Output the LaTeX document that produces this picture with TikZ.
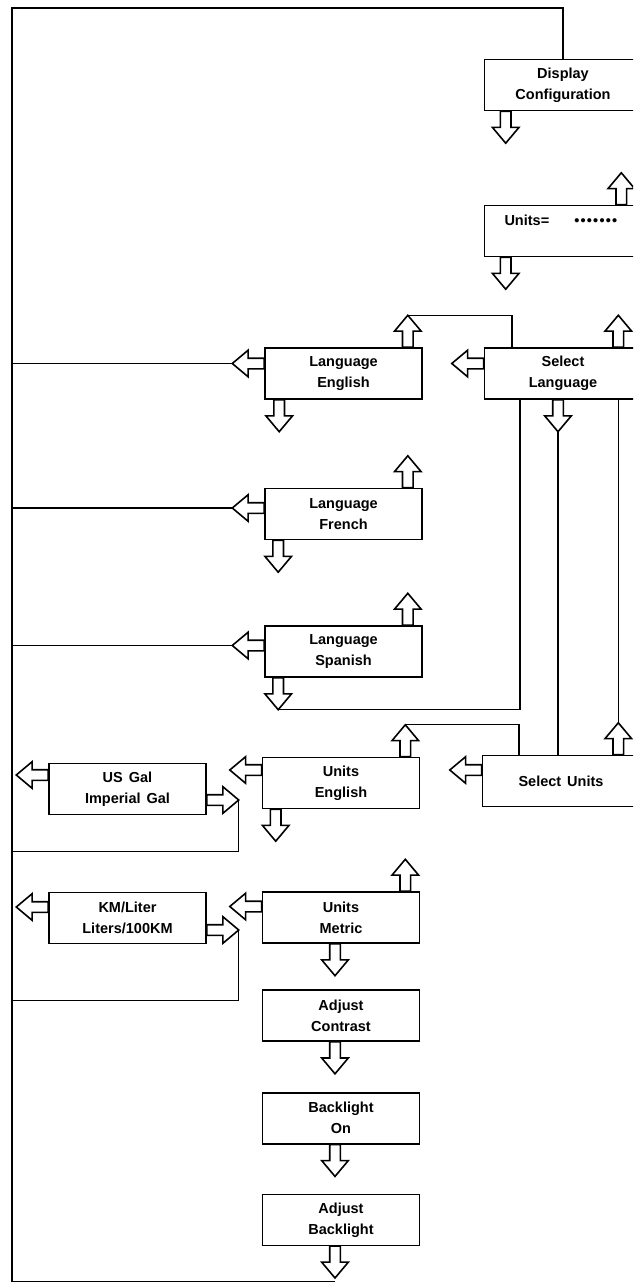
\documentclass[tikz,border=0pt]{standalone}
\usepackage{fontspec}
\setmainfont{Liberation Sans}
\usetikzlibrary{shapes.arrows,positioning}
\tikzset{
  menubox/.style={
    draw, line width=1.6pt, minimum width=157pt, minimum height=51pt,
    inner sep=2pt, align=center, font=\bfseries\fontsize{14.5}{21}\selectfont
  },
  barrow/.style={
    single arrow, draw, line width=1.6pt, fill=white,
    inner xsep=12pt, inner ysep=4.5pt,
    single arrow head extend=8pt, single arrow tip angle=80,
    minimum width=0pt, minimum height=0pt, outer sep=0pt, anchor=tail
  },
  darr/.style={barrow, rotate=-90},
  uarr/.style={barrow, rotate=90},
  larr/.style={barrow, rotate=180},
  rarr/.style={barrow},
  wire/.style={line width=1.3pt}
}
\newcommand{\blank}{\hspace{1.2pt}•}

\begin{document}
\begin{tikzpicture}[x=1pt, y=-1pt, node distance=50pt]
  \useasboundingbox (0,0) rectangle (633,1284);
  \clip (0,0) rectangle (633,1284);
  \coordinate (fTL) at (12,8);
  \coordinate (fBL) at (12,1281.5);

  % right column
  \node[menubox] (disp)   at (563,85)    {Display\\Configuration};
  \node[menubox, text width=141pt, inner xsep=8pt, align=left] (unitsD) at (563,231)
    {\hspace*{12pt}Units=\hspace{24pt}\blank\blank\blank\blank\blank\blank\blank\\\mbox{}};
  \node[menubox] (selL)   at (563,373.5) {Select\\Language};
  \node[menubox] (selU)   at (561,781)   {Select\hspace{6pt}Units};

  % language column
  \node[menubox] (engL)   at (343.5,373.5) {Language\\English};
  \node[menubox] (frL)    at (343.5,514)   {Language\\French};
  \node[menubox] (spL)    at (343.5,651.5) {Language\\Spanish};

  % units column
  \node[menubox] (uEng)   at (341,783)     {Units\\English};
  \node[menubox] (uMet)   at (341,917.5)   {Units\\Metric};
  \node[menubox] (usGal)  at (127.5,789)   {US\hspace{6pt}Gal\\Imperial\hspace{6pt}Gal};
  \node[menubox] (kmL)    at (127.5,918)   {KM/Liter\\Liters/100KM};
  \node[menubox, below=45.5pt of uMet] (contrast) {Adjust\\Contrast};
  \node[menubox, below=50pt of contrast] (blOn) {Backlight\\On};
  \node[menubox, below=49pt of blOn] (adjBl) {Adjust\\Backlight};

  % block arrows
  \node[darr] (dispD)   at ([xshift=22pt]disp.south west) {};
  \node[uarr] (unitsU)  at ([xshift=-21pt]unitsD.north east) {};
  \node[darr] (unitsDn) at ([xshift=22pt]unitsD.south west) {};
  \node[uarr] (selLU)   at ([xshift=-24pt]selL.north east) {};
  \node[larr] (selLL)   at ([yshift=10pt]selL.west) {};
  \node[darr] (selLD)   at ([xshift=-5pt]selL.south) {};
  \node[uarr] (engLU)   at ([xshift=-15pt]engL.north east) {};
  \node[larr] (engLL)   at ([yshift=10pt]engL.west) {};
  \node[darr] (engLD)   at ([xshift=15pt]engL.south west) {};
  \node[uarr] (frLU)    at ([xshift=-15pt]frL.north east) {};
  \node[larr] (frLL)    at ([yshift=6pt]frL.west) {};
  \node[darr] (frLD)    at ([xshift=14pt]frL.south west) {};
  \node[uarr] (spLU)    at ([xshift=-15pt]spL.north east) {};
  \node[larr] (spLL)    at ([yshift=6pt]spL.west) {};
  \node[darr] (spLD)    at ([xshift=14pt]spL.south west) {};
  \node[uarr] (selUU)   at ([xshift=-22pt]selU.north east) {};
  \node[larr] (selUL)   at ([yshift=11pt]selU.west) {};
  \node[uarr] (uEngU)   at ([xshift=-15pt]uEng.north east) {};
  \node[larr] (uEngL)   at ([yshift=13pt]uEng.west) {};
  \node[darr] (uEngD)   at ([xshift=14pt]uEng.south west) {};
  \node[larr] (usGalL)  at ([yshift=14pt]usGal.west) {};
  \node[rarr] (usGalR)  at ([yshift=-11pt]usGal.east) {};
  \node[uarr] (uMetU)   at ([xshift=-15pt]uMet.north east) {};
  \node[larr] (uMetL)   at ([yshift=11pt]uMet.west) {};
  \node[darr] (uMetD)   at ([xshift=-6pt]uMet.south) {};
  \node[larr] (kmLL)    at ([yshift=11pt]kmL.west) {};
  \node[rarr] (kmLR)    at ([yshift=-12pt]kmL.east) {};
  \node[darr] (contrastD) at ([xshift=-6pt]contrast.south) {};
  \node[darr] (blOnD)   at ([xshift=-6pt]blOn.south) {};
  \node[darr] (adjBlD)  at ([xshift=-6pt]adjBl.south) {};

  % return paths
  \coordinate (usGalRet) at ([yshift=-36pt]usGal.south);
  \coordinate (kmRet)    at ([yshift=-56pt]kmL.south);
  \draw[wire] (fBL -| adjBlD.tip) -- (fBL) -- (fTL) -| (disp.north);
  \foreach \a in {engLL, frLL, spLL}{\draw[wire] (\a.tip) -- (\a.tip -| fTL);}
  \draw[wire] (usGalR.tip) |- (usGalRet -| fTL);
  \draw[wire] (kmLR.tip) |- (kmRet -| fTL);
  \draw[wire] (engLU.tip) -| ([xshift=-51pt]selL.north);
  \draw[wire] (spLD.tip) -| ([xshift=-43pt]selL.south);
  \draw[wire] (selLD.tip) -- (selLD.tip |- selU.north);
  \draw[wire] (selUU.tip |- selL.south) -- (selUU.tip);
  \draw[wire] (uEngU.tip) -| ([xshift=-42pt]selU.north);
\end{tikzpicture}
\end{document}
